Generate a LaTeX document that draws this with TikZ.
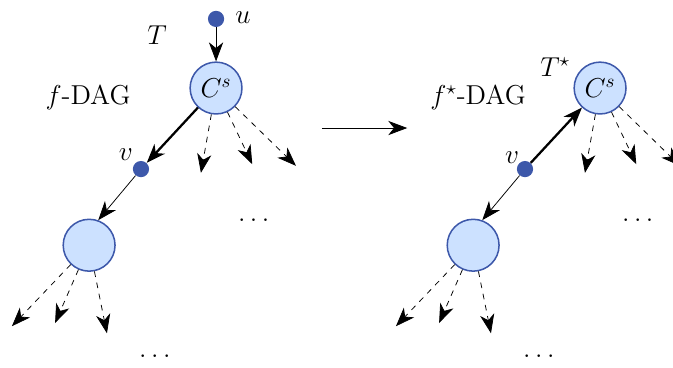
\documentclass[tikz,border=0pt]{standalone}
\usepackage{amsmath, amssymb}
\usetikzlibrary{arrows.meta}
\definecolor{dagblue}{RGB}{61,88,170}
\definecolor{dagfill}{RGB}{204,225,255}
\def\xShift{7.11}
\tikzset{
  dagnode/.style={circle, draw=dagblue, fill=dagfill, thick, minimum size=0.96cm, inner sep=0pt, font=\Large},
  dagdot/.style={circle, fill=dagblue, minimum size=0.3cm, inner sep=0pt},
  dagtip/.style={-{Stealth[length=10pt, width=7.5pt, inset=3pt]}},
  dagedge/.style={dagtip, thin},
  dagpath/.style={dagtip, very thick},
  dagopen/.style={dagtip, thin, dashed},
  daglbl/.style={font=\Large, inner sep=1pt},
}
\newcommand{\dagfan}[2]{%
  \foreach \dx/\dy [count=\i] in {#2} {
    \path (#1) ++(\dx,\dy) coordinate (#1e\i);
    \draw[dagopen] (#1) -- (#1e\i);
  }}

\begin{document}
\begin{tikzpicture}
  \useasboundingbox (0,0) rectangle (12.46,-6.8);

  \node[dagdot] (u) at (4.00,-0.35) {};
  \node[dagnode] (csL) at (4.00,-1.63) {$C^s$};
  \node[dagdot] (vL) at (2.61,-3.13) {};
  \node[dagnode] (lwL) at (1.65,-4.54) {};
  \node[daglbl] (uLbl) at (4.50,-0.33) {$u$};
  \node[daglbl] (tL) at (2.91,-0.65) {$T$};
  \node[daglbl] (fL) at (1.63,-1.80) {$f$-DAG};
  \node[daglbl] (vLLbl) at (2.33,-2.87) {$v$};
  \node[daglbl] (dotsL1) at (4.74,-4.07) {$\dots$};
  \node[daglbl] (dotsL2) at (2.91,-6.60) {$\dots$};
  \draw[dagedge] (u) -- (csL);
  \draw[dagpath] (csL) -- (vL);
  \draw[dagedge] (vL) -- (lwL.70);
  \dagfan{csL}{-0.28/-1.57, 0.67/-1.41, 1.48/-1.44}
  \dagfan{lwL}{-1.43/-1.50, -0.63/-1.44, 0.33/-1.63}

  \coordinate (arrS) at (5.96,-2.37);
  \coordinate (arrE) at (7.54,-2.37);
  \draw[dagedge] (arrS) -- (arrE);

  \begin{scope}[xshift=\xShift cm]
    \node[dagnode] (csR) at (4.00,-1.63) {$C^s$};
    \node[dagdot] (vR) at (2.61,-3.13) {};
    \node[dagnode] (lwR) at (1.65,-4.54) {};
    \node[daglbl] (tR) at (3.17,-1.24) {$T^\star$};
    \node[daglbl] (fR) at (1.74,-1.80) {$f^\star$-DAG};
    \node[daglbl] (vRLbl) at (2.37,-2.91) {$v$};
    \node[daglbl] (dotsR1) at (4.74,-4.07) {$\dots$};
    \node[daglbl] (dotsR2) at (2.91,-6.60) {$\dots$};
    \draw[dagpath] (vR) -- (csR);
    \draw[dagedge] (vR) -- (lwR.70);
    \dagfan{csR}{-0.28/-1.57, 0.67/-1.41, 1.48/-1.44}
    \dagfan{lwR}{-1.43/-1.50, -0.63/-1.44, 0.33/-1.63}
  \end{scope}
\end{tikzpicture}
\end{document}
